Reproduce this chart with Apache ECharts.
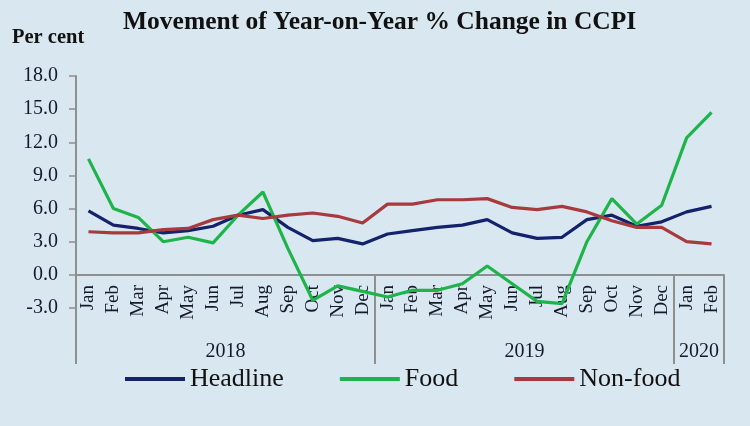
<!DOCTYPE html>
<html>
<head>
<meta charset="utf-8">
<script src="https://cdn.jsdelivr.net/npm/echarts@6/dist/echarts.min.js"></script>
<style>
html,body{margin:0;padding:0;background:#d9e7f0;}
#c{width:750px;height:426px;}
</style>
</head>
<body>
<div id="c"></div>
<script>
var months = ['Jan','Feb','Mar','Apr','May','Jun','Jul','Aug','Sep','Oct','Nov','Dec',
              'Jan','Feb','Mar','Apr','May','Jun','Jul','Aug','Sep','Oct','Nov','Dec',
              'Jan','Feb'];
var years = ['2018','2019','2020'];
var yearStart = [0, 12, 24];
var yearEnd = [12, 24, 26];
var headline = [5.8,4.5,4.2,3.8,4.0,4.4,5.4,5.9,4.3,3.1,3.3,2.8,
                3.7,4.0,4.3,4.5,5.0,3.8,3.3,3.4,5.0,5.4,4.4,4.8,
                5.7,6.2];
var food = [10.5,6.0,5.2,3.0,3.4,2.9,5.4,7.5,2.4,-2.3,-1.0,-1.5,
            -2.0,-1.4,-1.4,-0.8,0.8,-0.8,-2.4,-2.6,3.0,6.9,4.6,6.3,
            12.4,14.7];
var nonfood = [3.9,3.8,3.8,4.1,4.2,5.0,5.4,5.1,5.4,5.6,5.3,4.7,
               6.4,6.4,6.8,6.8,6.9,6.1,5.9,6.2,5.7,4.9,4.3,4.3,
               3.0,2.8];
var yTicks = {min: -3, max: 18, interval: 3};

var serif = 'Liberation Serif';
var textCol = '#141a2a';
var axisCol = '#8f8f8f';

var yearCenters = years.map(function(y,i){return (yearStart[i]+yearEnd[i])/2;});
var boundaries = [0].concat(yearEnd);

var chart = echarts.init(document.getElementById('c'));
chart.setOption({
  backgroundColor: '#d9e7f0',
  animation: false,
  title: {
    text: 'Movement of Year-on-Year % Change in CCPI',
    left: 118, top: 4,
    textStyle: {fontFamily: serif, fontWeight: 'bold', fontSize: 25.5, color: '#111'}
  },
  graphic: [{
    type: 'text', left: 12, top: 27,
    style: {text: 'Per cent', font: 'bold 20.5px "Liberation Serif"', fill: '#111'}
  }],
  legend: {
    data: ['Headline','Food','Non-food'],
    left: 120, top: 361,
    icon: 'rect', itemWidth: 60, itemHeight: 4, itemGap: 56,
    textStyle: {fontFamily: serif, fontSize: 26, color: '#111'}
  },
  grid: {left: 76, right: 26, top: 76, bottom: 118},
  xAxis: [{
    type: 'category',
    data: months,
    boundaryGap: true,
    position: 'bottom',
    offset: -33,
    axisLine: {onZero: false, lineStyle: {color: axisCol, width: 2}},
    axisTick: {show: false},
    axisLabel: {interval: 0, rotate: 90, margin: 10, fontFamily: serif, fontSize: 19, color: textCol}
  }, {
    type: 'value',
    min: 0, max: 26,
    position: 'bottom',
    offset: -33,
    axisLine: {show: false, onZero: false},
    splitLine: {show: false},
    axisTick: {show: true, customValues: boundaries, inside: false, length: 89,
               lineStyle: {color: axisCol, width: 2}},
    axisLabel: {customValues: yearCenters, margin: 67, fontFamily: serif, fontSize: 20, color: textCol,
      formatter: function(v){ var i = yearCenters.indexOf(v); return i >= 0 ? years[i] : ''; }}
  }],
  yAxis: {
    type: 'value',
    min: yTicks.min, max: yTicks.max, interval: yTicks.interval,
    axisLine: {show: true, lineStyle: {color: axisCol, width: 2}},
    axisTick: {show: true, length: 7, lineStyle: {color: axisCol, width: 1.5}},
    splitLine: {show: false},
    axisLabel: {margin: 18, fontFamily: serif, fontSize: 20, color: textCol,
      formatter: function(v){return v.toFixed(1);}}
  },
  series: [
    {name: 'Headline', type: 'line', data: headline, symbol: 'none',
     lineStyle: {color: '#13226a', width: 3.2}, itemStyle: {color: '#13226a'}},
    {name: 'Food', type: 'line', data: food, symbol: 'none',
     lineStyle: {color: '#1db54a', width: 3.2}, itemStyle: {color: '#1db54a'}},
    {name: 'Non-food', type: 'line', data: nonfood, symbol: 'none',
     lineStyle: {color: '#a63a3c', width: 3.2}, itemStyle: {color: '#a63a3c'}}
  ]
});
</script>
</body>
</html>
